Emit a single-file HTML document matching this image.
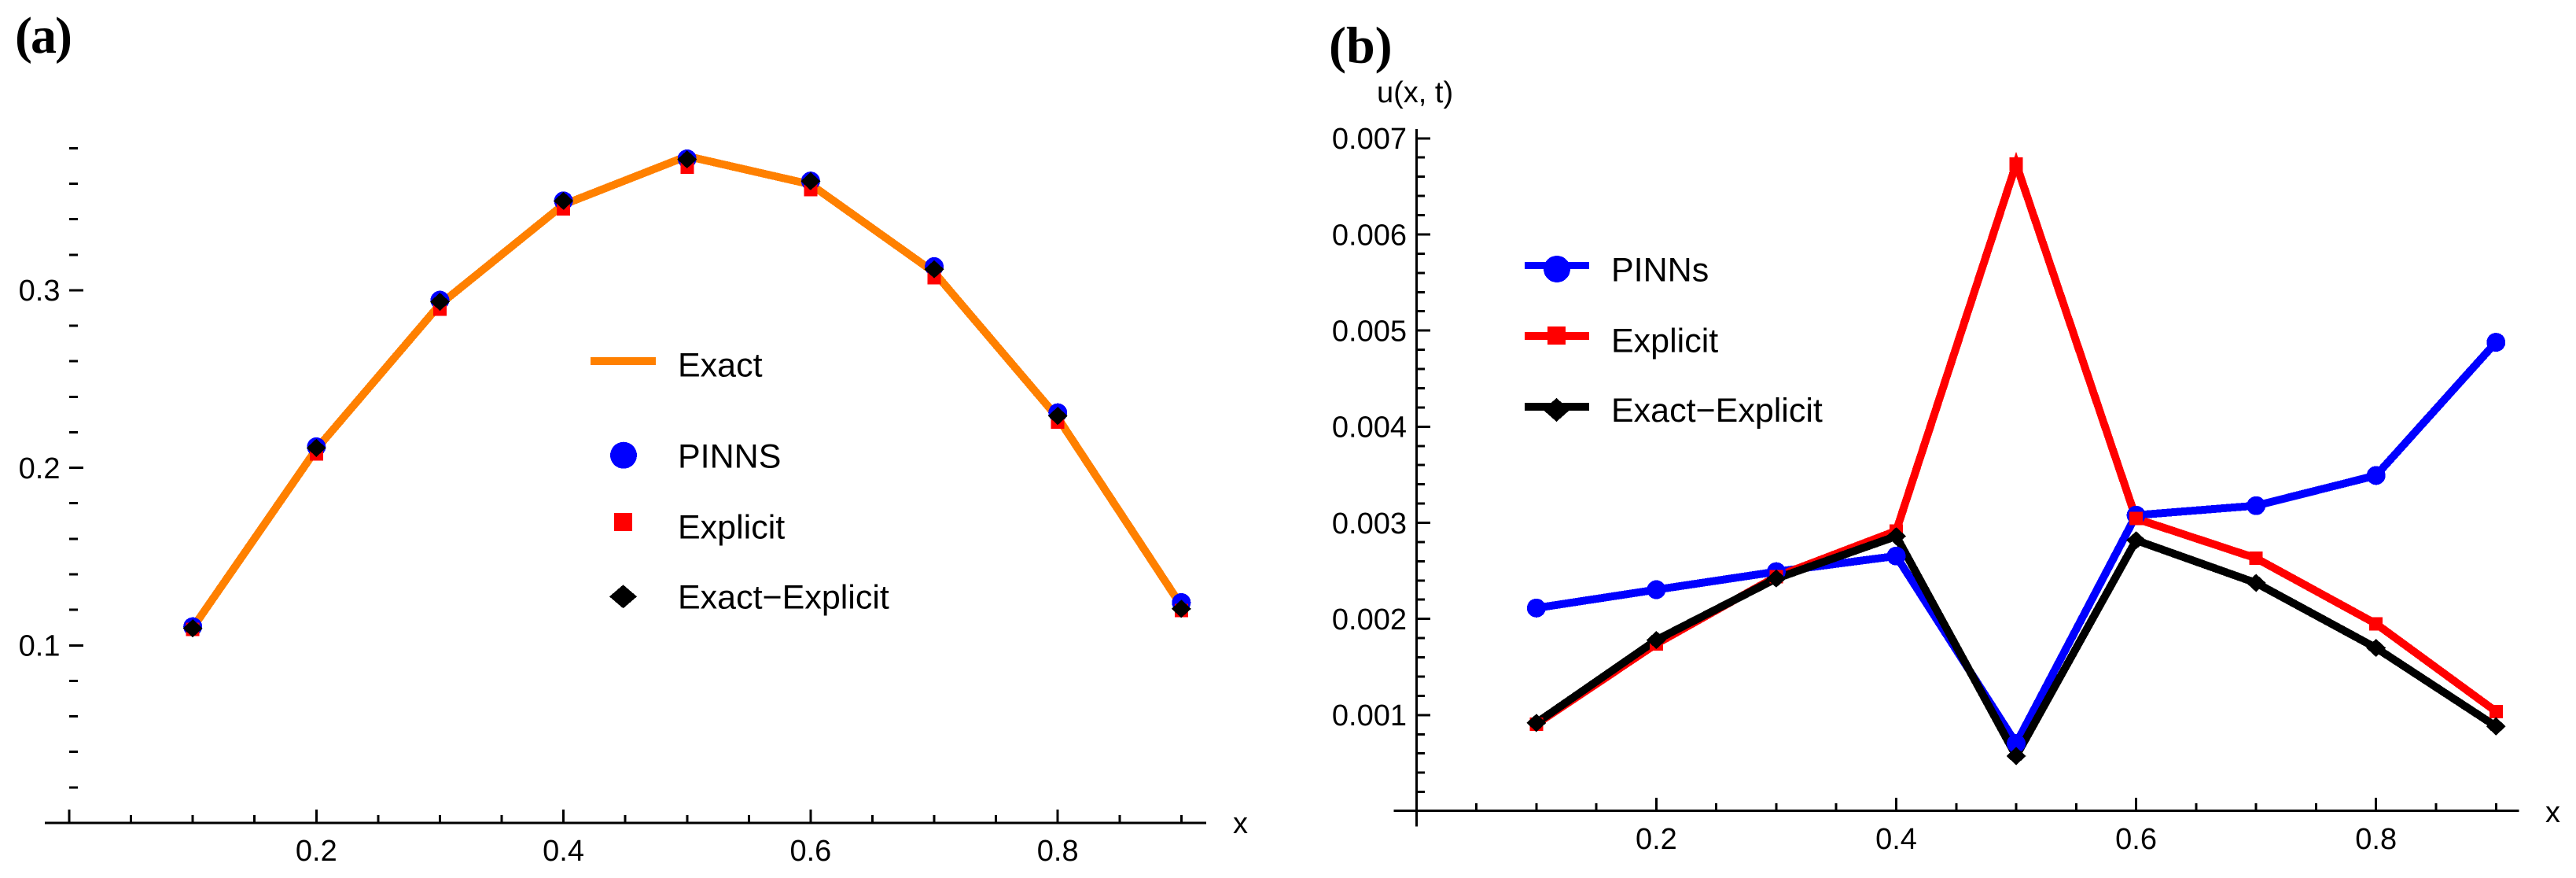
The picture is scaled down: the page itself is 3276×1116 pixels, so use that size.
<!DOCTYPE html>
<html lang="en">
<head>
<meta charset="utf-8">
<title>Comparison of PINNs and explicit solutions</title>
<style>
html,body{margin:0;padding:0;background:#fff;width:3276px;height:1116px;overflow:hidden}
svg{display:block}
rect,circle,polygon,polyline{shape-rendering:crispEdges}
text{font-family:"Liberation Sans",Arial,sans-serif;fill:#000}
.panel-label{font-family:"Liberation Serif","Times New Roman",serif;font-weight:700;font-size:66px}
.tick{font-size:38px}
.legend{font-size:43px}
</style>
</head>
<body>
<svg id="figure" xmlns="http://www.w3.org/2000/svg" width="3276" height="1116" viewBox="0 0 3276 1116">
  <rect width="3276" height="1116" fill="#fff"/>
  <g id="panel-a">
    <text class="panel-label" x="19" y="67" letter-spacing="-2">(a)</text>
    <text class="tick" x="1568" y="1059">x</text>
    <g id="axes-a"></g>
    <g id="marks-a"></g>
    <g>
      <g>
        <rect x="751" y="454" width="83" height="10" fill="#ff8000"/>
        <text class="legend" x="862" y="478.7">Exact</text>
      </g>
      <g>
        <circle cx="793" cy="578.7" r="17" fill="#0000ff"/>
        <text class="legend" x="862" y="594.3">PINNS</text>
      </g>
      <g>
        <rect x="781" y="652" width="23" height="23" fill="#ff0000"/>
        <text class="legend" x="862" y="684.3">Explicit</text>
      </g>
      <g>
        <polygon points="792.5,743.3 810,758.3 792.5,773.3 775,758.3" fill="#000"/>
        <text class="legend" x="862" y="773.3">Exact−Explicit</text>
      </g>
    </g>
  </g>
  <g id="panel-b">
    <text class="panel-label" x="1690" y="79.5">(b)</text>
    <text class="tick" x="1751" y="130">u(x, t)</text>
    <text class="tick" x="3237" y="1045">x</text>
    <g id="axes-b"></g>
    <g id="marks-b"></g>
    <g>
      <g>
        <rect x="1939" y="333" width="82" height="9" fill="#0000ff"/>
        <circle cx="1980" cy="342" r="17" fill="#0000ff"/>
        <text class="legend" x="2049" y="357.3">PINNs</text>
      </g>
      <g>
        <rect x="1939" y="422" width="82" height="10" fill="#ff0000"/>
        <rect x="1968" y="415" width="23" height="23" fill="#ff0000"/>
        <text class="legend" x="2049" y="447.3">Explicit</text>
      </g>
      <g>
        <rect x="1939" y="512" width="82" height="10" fill="#000"/>
        <polygon points="1979.5,506 1996.5,521 1979.5,536 1962.5,521" fill="#000"/>
        <text class="legend" x="2049" y="536">Exact−Explicit</text>
      </g>
    </g>
  </g>
</svg>
<script>
// Shared x positions of the samples
const xSamples = [0.1, 0.2, 0.3, 0.4, 0.5, 0.6, 0.7, 0.8, 0.9];

// Panel (a) series
const exactA = [0.1099, 0.2105, 0.2920, 0.3482, 0.3755, 0.3596, 0.3101, 0.2282, 0.1223];
const pinnsA = [0.1105, 0.2118, 0.2944, 0.3503, 0.3740, 0.3615, 0.3133, 0.2310, 0.1241];
const explicitA = [0.1089, 0.2078, 0.2894, 0.3459, 0.3694, 0.3566, 0.3070, 0.2257, 0.1197];
const exactExplicitA = [0.1096, 0.2112, 0.2935, 0.3503, 0.3737, 0.3614, 0.3118, 0.2292, 0.1206];

// Panel (b) series
const pinnsB = [0.002113, 0.002304, 0.002491, 0.002654, 0.000703, 0.003079, 0.003178, 0.003492, 0.004878];
const explicitB = [0.000906, 0.00174, 0.00244, 0.002916, 0.006733, 0.003043, 0.002631, 0.001949, 0.001037];
const exactExplicitB = [0.000918, 0.00178, 0.00242, 0.00286, 0.000573, 0.002818, 0.002374, 0.001698, 0.000882];

// Tick values
const xMinorTicks = [0.05, 0.1, 0.15, 0.25, 0.3, 0.35, 0.45, 0.5, 0.55, 0.65, 0.7, 0.75, 0.85, 0.9];
const xMajorTicks = [0, 0.2, 0.4, 0.6, 0.8];
const xTickLabels = ['0.2', '0.4', '0.6', '0.8'];
const xTickLabelValues = [0.2, 0.4, 0.6, 0.8];
const yMajorTicksA = [0.1, 0.2, 0.3];
const yTickLabelsA = ['0.1', '0.2', '0.3'];
const yMinorTicksA = [0.02, 0.04, 0.06, 0.08, 0.12, 0.14, 0.16, 0.18, 0.22, 0.24, 0.26, 0.28, 0.32, 0.34, 0.36, 0.38];
const yMajorTicksB = [0.001, 0.002, 0.003, 0.004, 0.005, 0.006, 0.007];
const yTickLabelsB = ['0.001', '0.002', '0.003', '0.004', '0.005', '0.006', '0.007'];
const yMinorTicksB = [0.0002, 0.0004, 0.0006, 0.0008, 0.0012, 0.0014, 0.0016, 0.0018, 0.0022, 0.0024, 0.0026, 0.0028, 0.0032, 0.0034, 0.0036, 0.0038, 0.0042, 0.0044, 0.0046, 0.0048, 0.0052, 0.0054, 0.0056, 0.0058, 0.0062, 0.0064, 0.0066, 0.0068];

// Axis functions
function xA(v) { return 88 + v * 1571.5; }
function yA(v) { return 1046 - v * 2257; }
function xB(v) { return 1801.3 + v * 1525.5; }
function yB(v) { return 1031 - v * 122170; }

const SVG_NS = 'http://www.w3.org/2000/svg';

function makeEl(parent, tag, name, props) {
  const el = document.createElementNS(SVG_NS, tag);
  
  
  for (const key in props) { el.setAttribute(key, props[key]); }
  parent.appendChild(el);
  return el;
}

function hLine(parent, name, x1, x2, y, w) {
  makeEl(parent, 'rect', name, { x: x1, y: y - w / 2, width: x2 - x1, height: w, fill: '#000' });
}
function vLine(parent, name, x, y1, y2, w) {
  makeEl(parent, 'rect', name, { x: x - w / 2, y: y1, width: w, height: y2 - y1, fill: '#000' });
}

function drawSeriesLine(parent, name, xs, ys, fx, fy, color, width) {
  const pts = xs.map(function (x, i) { return fx(x).toFixed(2) + ',' + fy(ys[i]).toFixed(2); }).join(' ');
  makeEl(parent, 'polyline', name, {
    points: pts, fill: 'none', stroke: color, 'stroke-width': width,
    'stroke-linejoin': 'miter', 'stroke-miterlimit': 6, 'stroke-linecap': 'butt'
  });
}

function drawCircles(parent, name, xs, ys, fx, fy) {
  xs.forEach(function (x, i) {
    makeEl(parent, 'circle', name + '-' + (i + 1), { cx: fx(x), cy: fy(ys[i]), r: 12, fill: '#0000ff' });
  });
}
function drawSquares(parent, name, xs, ys, fx, fy) {
  xs.forEach(function (x, i) {
    makeEl(parent, 'rect', name + '-' + (i + 1), { x: fx(x) - 8.5, y: fy(ys[i]) - 8.5, width: 17, height: 17, fill: '#ff0000' });
  });
}
function drawDiamonds(parent, name, xs, ys, fx, fy) {
  xs.forEach(function (x, i) {
    const cx = fx(x);
    const cy = fy(ys[i]);
    const pts = cx + ',' + (cy - 11.5) + ' ' + (cx + 12.5) + ',' + cy + ' ' + cx + ',' + (cy + 11.5) + ' ' + (cx - 12.5) + ',' + cy;
    makeEl(parent, 'polygon', name + '-' + (i + 1), { points: pts, fill: '#000' });
  });
}

function drawTickLabel(parent, name, x, y, anchor, str) {
  const t = makeEl(parent, 'text', name, { x: x, y: y, 'text-anchor': anchor, class: 'tick' });
  t.textContent = str;
}

// ---------- Panel (a) ----------
const axesA = document.getElementById('axes-a');
const marksA = document.getElementById('marks-a');
hLine(axesA, 'x-axis-line-a', 57, 1534, 1046, 3);
xMajorTicks.forEach(function (v) { vLine(axesA, 'x-major-tick-a', xA(v), 1029, 1046, 3); });
xMinorTicks.forEach(function (v) { vLine(axesA, 'x-minor-tick-a', xA(v), 1036, 1046, 3); });
xTickLabelValues.forEach(function (v, i) {
  drawTickLabel(axesA, 'x-tick-label-a', xA(v), 1094, 'middle', xTickLabels[i]);
});
yMajorTicksA.forEach(function (v, i) {
  hLine(axesA, 'y-major-tick-a', 88, 106, yA(v), 3);
  drawTickLabel(axesA, 'y-tick-label-a', 76.5, yA(v) + 13.3, 'end', yTickLabelsA[i]);
});
yMinorTicksA.forEach(function (v) { hLine(axesA, 'y-minor-tick-a', 88, 99, yA(v), 3); });

drawSeriesLine(marksA, 'exact-line-a', xSamples, exactA, xA, yA, '#ff8000', 10);
drawCircles(marksA, 'pinns-point-a', xSamples, pinnsA, xA, yA);
drawSquares(marksA, 'explicit-point-a', xSamples, explicitA, xA, yA);
drawDiamonds(marksA, 'exact-explicit-point-a', xSamples, exactExplicitA, xA, yA);

// ---------- Panel (b) ----------
const axesB = document.getElementById('axes-b');
const marksB = document.getElementById('marks-b');
hLine(axesB, 'x-axis-line-b', 1772.5, 3203.5, 1030.7, 3);
vLine(axesB, 'y-axis-line-b', 1801.3, 164, 1050.5, 3);
xMajorTicks.forEach(function (v) { vLine(axesB, 'x-major-tick-b', xB(v), 1014, 1031, 3); });
xMinorTicks.forEach(function (v) { vLine(axesB, 'x-minor-tick-b', xB(v), 1021, 1031, 3); });
xTickLabelValues.forEach(function (v, i) {
  drawTickLabel(axesB, 'x-tick-label-b', xB(v), 1079, 'middle', xTickLabels[i]);
});
yMajorTicksB.forEach(function (v, i) {
  hLine(axesB, 'y-major-tick-b', 1801.3, 1819, yB(v), 3);
  drawTickLabel(axesB, 'y-tick-label-b', 1789, yB(v) + 13.3, 'end', yTickLabelsB[i]);
});
yMinorTicksB.forEach(function (v) { hLine(axesB, 'y-minor-tick-b', 1801.3, 1812, yB(v), 3); });

drawSeriesLine(marksB, 'pinns-line-b', xSamples, pinnsB, xB, yB, '#0000ff', 10);
drawSeriesLine(marksB, 'explicit-line-b', xSamples, explicitB, xB, yB, '#ff0000', 10);
drawSeriesLine(marksB, 'exact-explicit-line-b', xSamples, exactExplicitB, xB, yB, '#000000', 10);
drawCircles(marksB, 'pinns-point-b', xSamples, pinnsB, xB, yB);
drawSquares(marksB, 'explicit-point-b', xSamples, explicitB, xB, yB);
drawDiamonds(marksB, 'exact-explicit-point-b', xSamples, exactExplicitB, xB, yB);
</script>
</body>
</html>
